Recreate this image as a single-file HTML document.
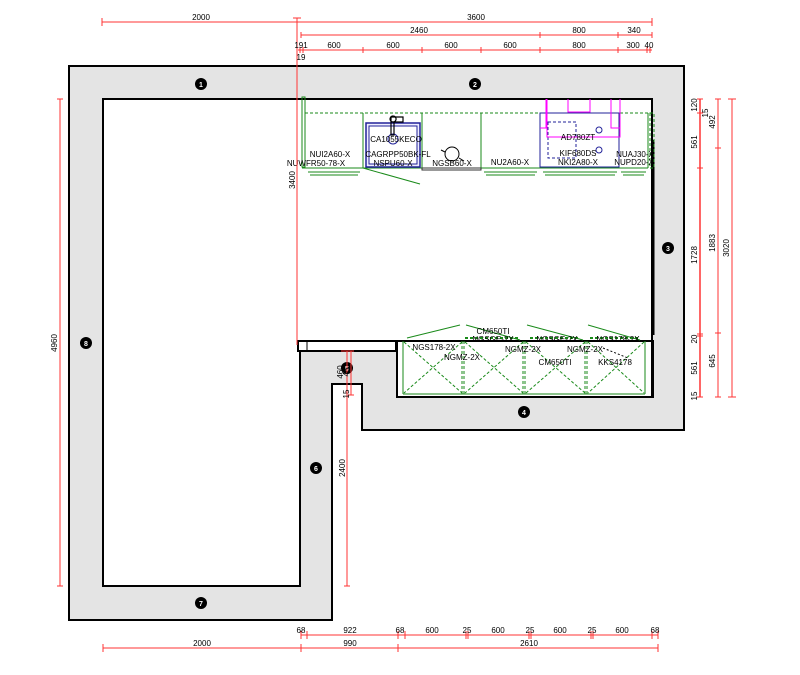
<!DOCTYPE html>
<html><head><meta charset="utf-8"><style>
html,body{margin:0;padding:0;background:#fff;}
svg{display:block;}
text{font-family:"Liberation Sans",sans-serif;font-size:8px;fill:#000;}
.r{stroke:#f33;stroke-width:1;fill:none;}
.g{stroke:#1a8a1a;stroke-width:1;fill:none;}
.gd{stroke:#1a8a1a;stroke-width:1;fill:none;stroke-dasharray:3,2;}
.c text{fill:#fff;font-weight:bold;font-size:7px;}
</style></head><body>
<svg width="800" height="675" viewBox="0 0 800 675" xmlns="http://www.w3.org/2000/svg">
<!-- walls -->
<polygon points="69,66 684,66 684,430 362,430 362,384 332,384 332,620 69,620" fill="#e4e4e4" stroke="#000" stroke-width="2"/>
<polygon points="103,99 652,99 652,397 397,397 397,351 300,351 300,586 103,586" fill="#fff" stroke="#000" stroke-width="2"/>
<rect x="298" y="341" width="98" height="10" fill="#fff" stroke="#000" stroke-width="2"/>
<line x1="307" y1="341" x2="307" y2="351" stroke="#000" stroke-width="1"/>
<rect x="397" y="341" width="256" height="56" fill="none" stroke="#000" stroke-width="2"/>
<line x1="653" y1="140" x2="653" y2="335" stroke="#000" stroke-width="3"/>
<!-- circles -->
<g class="c">
<circle cx="201" cy="84" r="6"/><text x="201" y="87" text-anchor="middle">1</text>
<circle cx="475" cy="84" r="6"/><text x="475" y="87" text-anchor="middle">2</text>
<circle cx="668" cy="248" r="6"/><text x="668" y="251" text-anchor="middle">3</text>
<circle cx="524" cy="412" r="6"/><text x="524" y="415" text-anchor="middle">4</text>
<circle cx="347" cy="368" r="6"/><text x="347" y="371" text-anchor="middle">5</text>
<circle cx="316" cy="468" r="6"/><text x="316" y="471" text-anchor="middle">6</text>
<circle cx="201" cy="603" r="6"/><text x="201" y="606" text-anchor="middle">7</text>
<circle cx="86" cy="343" r="6"/><text x="86" y="346" text-anchor="middle">8</text>
</g>
<!-- top cabinets -->
<line x1="305" y1="113" x2="652" y2="113" class="gd" stroke-width="2"/>
<rect x="302" y="97" width="3" height="70" class="g"/>
<g class="g">
<polyline points="302,168 648,168"/>
<line x1="363" y1="113" x2="363" y2="168"/><line x1="422" y1="113" x2="422" y2="168"/>
<line x1="481" y1="113" x2="481" y2="168"/><line x1="540" y1="113" x2="540" y2="168"/>
<line x1="619" y1="113" x2="619" y2="168"/><line x1="648" y1="113" x2="648" y2="168"/>
<line x1="363" y1="168" x2="420" y2="184"/>
<line x1="308" y1="172" x2="360" y2="172"/><line x1="310" y1="175" x2="358" y2="175"/>
<line x1="484" y1="172" x2="537" y2="172"/><line x1="486" y1="175" x2="535" y2="175"/>
<line x1="543" y1="172" x2="617" y2="172"/><line x1="545" y1="175" x2="615" y2="175"/>
<line x1="621" y1="172" x2="646" y2="172"/><line x1="623" y1="175" x2="644" y2="175"/>
</g>
<rect x="422" y="168" width="59" height="2" fill="none" stroke="#333" stroke-width="1"/>
<rect x="366" y="123" width="54" height="44" fill="#eef" stroke="#229" stroke-width="1.5"/>
<rect x="369" y="126" width="48" height="38" fill="#fff" stroke="#229" stroke-width="1"/>
<circle cx="393" cy="139" r="5" fill="none" stroke="#229"/>
<path d="M391,117 h12 v5 h-9 v13 h-3 z M393,116 a3,3 0 1 0 0.1,0" fill="none" stroke="#000" stroke-width="1.2"/>
<circle cx="452" cy="154" r="7" fill="#fff" stroke="#000"/>
<line x1="441" y1="150" x2="445" y2="152" stroke="#000"/><line x1="459" y1="158" x2="464" y2="161" stroke="#000"/>
<rect x="540" y="113" width="79" height="54" fill="none" stroke="#229" stroke-width="1"/>
<rect x="548" y="122" width="28" height="36" fill="none" stroke="#229" stroke-dasharray="3,2"/>
<circle cx="599" cy="130" r="3" fill="none" stroke="#229"/><circle cx="599" cy="150" r="3" fill="none" stroke="#229"/>
<polyline points="547,99 547,137 620,137 620,99" fill="none" stroke="#f0f" stroke-width="1"/>
<polyline points="547,128 540,128" fill="none" stroke="#f0f"/>
<polyline points="568,99 568,112 590,112 590,99" fill="none" stroke="#f0f"/>
<polyline points="611,99 611,128 620,128" fill="none" stroke="#f0f"/>
<line x1="546" y1="99" x2="546" y2="128" stroke="#f0f"/>
<rect x="650" y="113" width="4" height="55" class="gd"/>
<g text-anchor="middle">
<text x="330" y="157">NUI2A60-X</text><text x="316" y="166">NUWFR50-78-X</text>
<text x="396" y="142">CA1055KECO</text><text x="398" y="157">CAGRPP50BK-FL</text><text x="393" y="166">NSPU60-X</text>
<text x="452" y="166">NGSB60-X</text><text x="510" y="165">NU2A60-X</text>
<text x="578" y="140">AD780ZT</text><text x="578" y="156">KIF680DS</text><text x="578" y="165">NKI2A80-X</text>
<text x="635" y="157">NUAJ30-X</text><text x="634" y="165">NUPD20-X</text>
</g>
<!-- lower cabinets -->
<g class="g">
<line x1="403" y1="341" x2="403" y2="394"/><line x1="645" y1="341" x2="645" y2="394"/>
<line x1="403" y1="394" x2="645" y2="394"/>
<line x1="407" y1="338" x2="460" y2="325"/><line x1="466" y1="325" x2="520" y2="340"/>
<line x1="527" y1="325" x2="583" y2="340"/><line x1="588" y1="325" x2="640" y2="340"/>
</g>
<g class="gd">
<line x1="462" y1="341" x2="462" y2="394"/><line x1="464" y1="341" x2="464" y2="394"/>
<line x1="523" y1="341" x2="523" y2="394"/><line x1="525" y1="341" x2="525" y2="394"/>
<line x1="585" y1="341" x2="585" y2="394"/><line x1="587" y1="341" x2="587" y2="394"/>
<line x1="404" y1="342" x2="462" y2="393"/><line x1="462" y1="342" x2="404" y2="393"/>
<line x1="465" y1="342" x2="523" y2="393"/><line x1="523" y1="342" x2="465" y2="393"/>
<line x1="526" y1="342" x2="585" y2="393"/><line x1="585" y1="342" x2="526" y2="393"/>
<line x1="588" y1="342" x2="644" y2="393"/><line x1="644" y1="342" x2="588" y2="393"/>
<line x1="465" y1="338" x2="520" y2="338" stroke-width="2"/><line x1="530" y1="338" x2="580" y2="338" stroke-width="2"/><line x1="590" y1="338" x2="640" y2="338" stroke-width="2"/>
</g>
<line x1="603" y1="348" x2="628" y2="358" stroke="#000" stroke-dasharray="2,2"/>
<g text-anchor="middle">
<text x="493" y="334">CM650TI</text><text x="493" y="342">NGSGE-2X</text><text x="557" y="342">NGSGE-2X</text><text x="618" y="342">NGS178-2X</text>
<text x="434" y="350">NGS178-2X</text><text x="462" y="360">NGMZ-2X</text>
<text x="523" y="352">NGMZ-2X</text><text x="585" y="352">NGMZ-2X</text>
<text x="555" y="365">CM650TI</text><text x="615" y="365">KKS4178</text>
</g>
<!-- dimensions -->
<g class="r">
<line x1="102" y1="22" x2="652" y2="22"/>
<line x1="102" y1="18" x2="102" y2="26"/><line x1="652" y1="18" x2="652" y2="26"/>
<line x1="297" y1="18" x2="297" y2="345"/><line x1="293" y1="18" x2="301" y2="18"/>
<line x1="301" y1="35" x2="652" y2="35"/>
<line x1="301" y1="32" x2="301" y2="38"/><line x1="540" y1="32" x2="540" y2="38"/><line x1="618" y1="32" x2="618" y2="38"/><line x1="652" y1="32" x2="652" y2="38"/>
<line x1="298" y1="50" x2="652" y2="50"/>
<line x1="300" y1="47" x2="300" y2="53"/><line x1="303" y1="47" x2="303" y2="53"/><line x1="363" y1="47" x2="363" y2="53"/><line x1="422" y1="47" x2="422" y2="53"/><line x1="481" y1="47" x2="481" y2="53"/><line x1="540" y1="47" x2="540" y2="53"/><line x1="618" y1="47" x2="618" y2="53"/><line x1="647" y1="47" x2="647" y2="53"/><line x1="650" y1="47" x2="650" y2="53"/>
<line x1="60" y1="99" x2="60" y2="586"/><line x1="57" y1="99" x2="63" y2="99"/><line x1="57" y1="586" x2="63" y2="586"/>
<line x1="347" y1="351" x2="347" y2="586"/><line x1="344" y1="586" x2="350" y2="586"/><line x1="341" y1="351" x2="354" y2="351"/>
<line x1="351" y1="351" x2="351" y2="395"/><line x1="348" y1="395" x2="354" y2="395"/>
<line x1="700" y1="99" x2="700" y2="397" stroke-width="1.5"/>
<line x1="697" y1="99" x2="703" y2="99"/><line x1="697" y1="113" x2="703" y2="113"/><line x1="697" y1="168" x2="703" y2="168"/><line x1="697" y1="334" x2="703" y2="334"/><line x1="697" y1="336" x2="703" y2="336"/><line x1="697" y1="397" x2="703" y2="397"/>
<line x1="718" y1="99" x2="718" y2="397"/>
<line x1="715" y1="99" x2="721" y2="99"/><line x1="715" y1="148" x2="721" y2="148"/><line x1="715" y1="333" x2="721" y2="333"/><line x1="715" y1="397" x2="721" y2="397"/>
<line x1="732" y1="99" x2="732" y2="397"/><line x1="728" y1="99" x2="736" y2="99"/><line x1="728" y1="397" x2="736" y2="397"/>
<line x1="301" y1="635" x2="658" y2="635"/>
<line x1="301" y1="631" x2="301" y2="639"/><line x1="307" y1="631" x2="307" y2="639"/><line x1="398" y1="631" x2="398" y2="639"/><line x1="405" y1="631" x2="405" y2="639"/><line x1="466" y1="631" x2="466" y2="639"/><line x1="468" y1="631" x2="468" y2="639"/><line x1="529" y1="631" x2="529" y2="639"/><line x1="531" y1="631" x2="531" y2="639"/><line x1="591" y1="631" x2="591" y2="639"/><line x1="593" y1="631" x2="593" y2="639"/><line x1="652" y1="631" x2="652" y2="639"/><line x1="658" y1="631" x2="658" y2="639"/>
<line x1="103" y1="648" x2="658" y2="648"/>
<line x1="103" y1="644" x2="103" y2="652"/><line x1="301" y1="644" x2="301" y2="652"/><line x1="398" y1="644" x2="398" y2="652"/><line x1="658" y1="644" x2="658" y2="652"/>
</g>
<g text-anchor="middle">
<text x="201" y="20">2000</text><text x="476" y="20">3600</text>
<text x="419" y="33">2460</text><text x="579" y="33">800</text><text x="634" y="33">340</text>
<text x="301" y="48">191</text><text x="334" y="48">600</text><text x="393" y="48">600</text><text x="451" y="48">600</text><text x="510" y="48">600</text><text x="579" y="48">800</text><text x="633" y="48">300</text><text x="649" y="48">40</text>
<text x="301" y="60">19</text>
<text transform="translate(295,180) rotate(-90)">3400</text>
<text transform="translate(57,343) rotate(-90)">4960</text>
<text transform="translate(345,468) rotate(-90)">2400</text>
<text transform="translate(343,372) rotate(-90)">460</text>
<text transform="translate(349,372) rotate(-90)">45</text>
<text transform="translate(349,394) rotate(-90)">15</text>
<text transform="translate(697,105) rotate(-90)">120</text>
<text transform="translate(708,113) rotate(-90)">15</text>
<text transform="translate(697,142) rotate(-90)">561</text>
<text transform="translate(715,122) rotate(-90)">492</text>
<text transform="translate(697,255) rotate(-90)">1728</text>
<text transform="translate(715,243) rotate(-90)">1883</text>
<text transform="translate(729,248) rotate(-90)">3020</text>
<text transform="translate(697,339) rotate(-90)">20</text>
<text transform="translate(697,368) rotate(-90)">561</text>
<text transform="translate(715,361) rotate(-90)">645</text>
<text transform="translate(697,396) rotate(-90)">15</text>
<text x="301" y="633">68</text><text x="350" y="633">922</text><text x="400" y="633">68</text><text x="432" y="633">600</text><text x="467" y="633">25</text><text x="498" y="633">600</text><text x="530" y="633">25</text><text x="560" y="633">600</text><text x="592" y="633">25</text><text x="622" y="633">600</text><text x="655" y="633">68</text>
<text x="202" y="646">2000</text><text x="350" y="646">990</text><text x="529" y="646">2610</text>
</g>
</svg>
</body></html>
